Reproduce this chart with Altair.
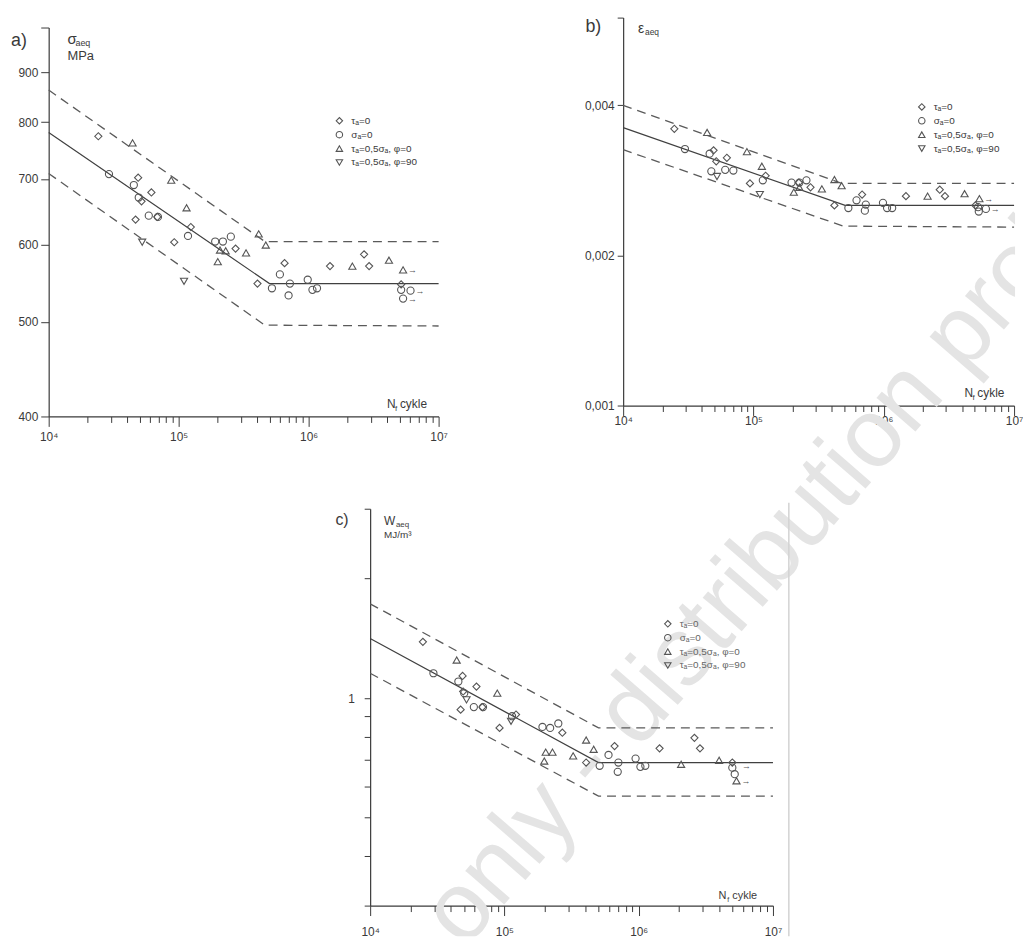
import altair as alt
import pandas as pd

FONT = "Liberation Sans, Arial, DejaVu Sans, sans-serif"
INK = "#3a3a3a"
MARK = "#555555"

SERIES = ["τₐ=0", "σₐ=0", "τₐ=0,5σₐ, φ=0", "τₐ=0,5σₐ, φ=90"]
SHAPES = ["diamond", "circle", "triangle-up", "triangle-down"]

X_TICKS = [m * 10 ** e for e in (4, 5, 6) for m in range(1, 10)] + [1e7]
X_LABEL_EXPR = ("datum.value == 10000 ? '10⁴' : datum.value == 100000 ? '10⁵' : "
                "datum.value == 1000000 ? '10⁶' : datum.value == 10000000 ? '10⁷' : ''")
X_MAJOR_TEST = ("datum.value == 10000 || datum.value == 100000 || "
                "datum.value == 1000000 || datum.value == 10000000")

# ---------------- panel a : sigma_aeq [MPa] ----------------
a_dia_N = [2.41e4, 4.88e4, 5.18e4, 6.17e4, 4.66e4, 6.85e4, 9.25e4, 1.24e5, 2.74e5, 6.53e5, 1.46e6, 2.67e6, 2.92e6, 4.04e5, 5.15e6]
a_dia_V = [774, 702, 664, 678, 636, 640, 603, 625, 594, 574, 570, 586, 570, 547, 546]
a_cir_N = [2.91e4, 4.52e4, 4.93e4, 5.89e4, 6.93e4, 1.18e5, 1.91e5, 2.19e5, 2.52e5, 5.22e5, 6.01e5, 7.01e5, 7.18e5, 9.84e5, 1.07e6, 1.16e6, 5.15e6, 5.33e6, 6.08e6]
a_cir_V = [708, 690, 670, 642, 640, 612, 604, 604, 611, 541, 559, 532, 547, 552, 539, 541, 539, 528, 538]
a_tup_N = [4.42e4, 8.77e4, 1.15e5, 2.00e5, 2.08e5, 2.30e5, 3.30e5, 4.13e5, 4.68e5, 2.17e6, 4.15e6, 5.33e6]
a_tup_V = [762, 698, 654, 576, 592, 591, 588, 615, 599, 570, 578, 565]
a_tdn_N = [5.24e4, 1.10e5]
a_tdn_V = [603, 550]
a_fit_N = [1e4, 5.0e5, 1e7]
a_fit_V = [781, 547, 547]
a_up_N = [1e4, 4.6e5, 1e7]
a_up_V = [863, 604, 604]
a_lo_N = [1e4, 4.6e5, 1e7]
a_lo_V = [709, 496, 495]
a_run_N = [5.33e6, 6.08e6, 5.33e6]
a_run_V = [565, 538, 528]
a_y_ticks = [400, 500, 600, 700, 800, 900, 1000]

# ---------------- panel b : epsilon_aeq ----------------
b_dia_N = [2.47e4, 4.94e4, 5.18e4, 6.25e4, 9.40e4, 1.24e5, 2.23e5, 2.74e5, 4.18e5, 6.82e5, 1.48e6, 2.69e6, 2.95e6, 5.05e6]
b_dia_V = [0.00359, 0.00325, 0.00309, 0.00314, 0.00279, 0.00289, 0.00280, 0.00274, 0.00252, 0.00265, 0.00263, 0.00271, 0.00263, 0.00252]
b_cir_N = [2.98e4, 4.61e4, 4.75e4, 6.07e4, 7.01e4, 1.18e5, 1.96e5, 2.25e5, 2.55e5, 5.35e5, 6.18e5, 7.16e5, 7.28e5, 9.86e5, 1.06e6, 1.16e6, 5.30e6, 5.36e6, 6.08e6]
b_cir_V = [0.00327, 0.00320, 0.00295, 0.00297, 0.00296, 0.00283, 0.00280, 0.00280, 0.00283, 0.00249, 0.00258, 0.00246, 0.00253, 0.00255, 0.00249, 0.00249, 0.00250, 0.00245, 0.00248]
b_tup_N = [4.41e4, 8.91e4, 1.16e5, 2.04e5, 2.25e5, 3.35e5, 4.18e5, 4.75e5, 2.17e6, 4.17e6, 5.42e6]
b_tup_V = [0.00353, 0.00323, 0.00302, 0.00268, 0.00274, 0.00272, 0.00284, 0.00276, 0.00263, 0.00266, 0.00260]
b_tdn_N = [5.25e4, 1.12e5]
b_tdn_V = [0.00288, 0.00265]
b_fit_N = [1e4, 5.05e5, 1e7]
b_fit_V = [0.00361, 0.00252, 0.00252]
b_up_N = [1e4, 4.75e5, 1e7]
b_up_V = [0.00400, 0.00279, 0.00279]
b_lo_N = [1e4, 4.9e5, 1e7]
b_lo_V = [0.00326, 0.00229, 0.00228]
b_run_N = [5.42e6, 6.08e6]
b_run_V = [0.00260, 0.00248]
b_y_ticks = [0.001, 0.002, 0.004, 0.006]

# ---------------- panel c : W_aeq [MJ/m3] ----------------
c_dia_N = [2.47e4, 4.88e4, 4.93e4, 6.19e4, 4.72e4, 6.85e4, 9.20e4, 1.22e5, 2.70e5, 6.61e5, 1.43e6, 2.60e6, 2.86e6, 4.06e5, 4.98e6]
c_dia_V = [1.386, 1.137, 1.039, 1.069, 0.935, 0.949, 0.841, 0.909, 0.818, 0.757, 0.747, 0.794, 0.747, 0.688, 0.688]
c_cir_N = [2.96e4, 4.54e4, 5.02e4, 5.92e4, 6.93e4, 1.14e5, 1.92e5, 2.19e5, 2.52e5, 5.12e5, 5.96e5, 6.98e5, 7.06e5, 9.48e5, 1.03e6, 1.12e6, 5.19e6, 4.98e6]
c_cir_V = [1.155, 1.101, 1.029, 0.949, 0.949, 0.900, 0.846, 0.841, 0.863, 0.675, 0.719, 0.652, 0.688, 0.704, 0.671, 0.675, 0.643, 0.668]
c_tup_N = [4.41e4, 8.85e4, 1.98e5, 2.03e5, 2.28e5, 3.25e5, 4.06e5, 4.62e5, 2.07e6, 3.97e6, 5.35e6]
c_tup_V = [1.247, 1.029, 0.694, 0.731, 0.731, 0.715, 0.784, 0.743, 0.681, 0.697, 0.619]
c_tdn_N = [5.22e4, 1.12e5]
c_tdn_V = [0.990, 0.874]
c_fit_N = [1e4, 5.02e5, 1e7]
c_fit_V = [1.413, 0.688, 0.688]
c_up_N = [1e4, 5.02e5, 1e7]
c_up_V = [1.728, 0.841, 0.841]
c_lo_N = [1e4, 5.02e5, 1e7]
c_lo_V = [1.155, 0.566, 0.566]
c_run_N = [5.4e6, 5.35e6]
c_run_V = [0.675, 0.619]
c_y_ticks = [0.3, 0.4, 0.5, 0.6, 0.7, 0.8, 0.9, 1, 2, 3]

WATERMARK = "only - distribution prohibited"


def pts_df(groups):
    rows = []
    for s, (ns, vs) in zip(SERIES, groups):
        for n, v in zip(ns, vs):
            rows.append({"N": n, "V": v, "series": s})
    return pd.DataFrame(rows)


def lines_df(fit, up, lo):
    rows = []
    for name, (ns, vs) in (("fit", fit), ("upper", up), ("lower", lo)):
        for n, v in zip(ns, vs):
            rows.append({"N": n, "V": v, "band": name})
    return pd.DataFrame(rows)


ONE = pd.DataFrame({"k": [0]})


def txt(x, y, s, size, color=INK, **kw):
    return alt.Chart(ONE).mark_text(text=s, align="left", baseline="alphabetic",
                                    fontSize=size, font=FONT, color=color, **kw).encode(
        x=alt.value(x), y=alt.value(y))


def panel(points, lines, runs, xr, yr, ydom, yticks, ylab_expr, xoff, yoff,
          xlabpad, ylabpad, ytick, ylabsize, leg_xy, leg_color, texts):
    xs = alt.Scale(type="log", domain=[1e4, 1e7], range=xr, nice=False)
    ys = alt.Scale(type="log", domain=ydom, range=yr, nice=False)
    xax = alt.Axis(orient="bottom", offset=xoff, values=X_TICKS, labelExpr=X_LABEL_EXPR,
                   title=None,
                   tickSize={"condition": {"test": X_MAJOR_TEST, "value": 10}, "value": 6},
                   labelPadding=xlabpad, labelFontSize=12,
                   labelFont=FONT, labelColor=INK, domainColor=INK, tickColor=INK,
                   grid=False, labelOverlap=False, labelFlush=False, domainWidth=1.2)
    yax = alt.Axis(orient="left", offset=yoff, values=yticks, labelExpr=ylab_expr,
                   title=None, tickSize=ytick, labelPadding=ylabpad, labelFontSize=ylabsize,
                   labelFont=FONT, labelColor=INK, domainColor=INK, tickColor=INK,
                   grid=False, labelOverlap=False, labelFlush=False, domainWidth=1.2)
    x = alt.X("N:Q", scale=xs, axis=xax)
    y = alt.Y("V:Q", scale=ys, axis=yax)
    fit = alt.Chart(lines[lines.band == "fit"]).mark_line(color="#404040", strokeWidth=1.2).encode(x=x, y=y)
    band = alt.Chart(lines[lines.band != "fit"]).mark_line(
        color="#5a5a5a", strokeWidth=1.3, strokeDash=[9, 6]).encode(x=x, y=y, detail="band:N")
    pts = alt.Chart(points).mark_point(filled=False, size=52, color=MARK, strokeWidth=1.1, opacity=1).encode(
        x=x, y=y,
        shape=alt.Shape("series:N", scale=alt.Scale(domain=SERIES, range=SHAPES),
                        legend=alt.Legend(orient="none", legendX=leg_xy[0], legendY=leg_xy[1],
                                          title=None, labelFontSize=10, labelFont=FONT,
                                          labelColor=leg_color, symbolSize=42,
                                          symbolStrokeWidth=1.1, symbolStrokeColor=MARK,
                                          symbolFillColor="transparent", padding=0,
                                          rowPadding=2, labelOffset=7)))
    arr = alt.Chart(runs).mark_text(text="→", align="left", dx=5, fontSize=9, color=MARK).encode(x=x, y=y)
    return alt.layer(fit, band, pts, arr, *texts)


pa = panel(
    pts_df([(a_dia_N, a_dia_V), (a_cir_N, a_cir_V), (a_tup_N, a_tup_V), (a_tdn_N, a_tdn_V)]),
    lines_df((a_fit_N, a_fit_V), (a_up_N, a_up_V), (a_lo_N, a_lo_V)),
    pd.DataFrame({"N": a_run_N, "V": a_run_V}),
    [41, 434], [405, 13], [400, 1000], a_y_ticks,
    "datum.value >= 1000 ? '' : format(datum.value, 'd')",
    -524, -41, 5, 3, 8, 12, (329, 102), INK,
    [txt(3, 32, "a)", 18), txt(60, 30, "σ", 15), txt(68, 32, "aeq", 9),
     txt(60, 46, "MPa", 13), txt(382, 396, "N", 12), txt(390, 399, "f", 8),
     txt(395, 396, "cykle", 12)])

pb = panel(
    pts_df([(b_dia_N, b_dia_V), (b_cir_N, b_cir_V), (b_tup_N, b_tup_V), (b_tdn_N, b_tdn_V)]),
    lines_df((b_fit_N, b_fit_V), (b_up_N, b_up_V), (b_lo_N, b_lo_V)),
    pd.DataFrame({"N": b_run_N, "V": b_run_V}),
    [620, 1014], [394, 3], [0.001, 0.006], b_y_ticks,
    "datum.value > 0.005 ? '' : replace(format(datum.value, '.3f'), '.', ',')",
    -535, -620, 0, 3, 6, 12, (916, 88), INK,
    [txt(582, 18, "b)", 18), txt(635, 19, "ε", 14), txt(642, 21, "aeq", 8.5),
     txt(964, 385, "N", 12), txt(972, 388, "f", 8), txt(977, 385, "cykle", 12)])

pc = panel(
    pts_df([(c_dia_N, c_dia_V), (c_cir_N, c_cir_V), (c_tup_N, c_tup_V), (c_tdn_N, c_tdn_V)]),
    lines_df((c_fit_N, c_fit_V), (c_up_N, c_up_V), (c_lo_N, c_lo_V)),
    pd.DataFrame({"N": c_run_N, "V": c_run_V}),
    [365, 771], [898, 498], [0.3, 3], c_y_ticks,
    "datum.value == 1 ? '1' : ''",
    -31, -365, 11, 10, 6, 12, (660, 609), "#666666",
    [txt(330, 514, "c)", 16), txt(379, 514, "W", 12), txt(391, 516, "aeq", 8),
     txt(379, 527, "MJ/m³", 10), txt(716, 891, "N", 11), txt(725, 894, "f", 7),
     txt(730, 891, "cykle", 11)])

watermark = alt.Chart(ONE).mark_text(
    text=WATERMARK, align="left", baseline="middle", angle=311, fontSize=98,
    font=FONT, color="#e4e4e4", clip=True).encode(x=alt.value(438), y=alt.value(924))

edge = alt.Chart(ONE).mark_rule(color="#d2d2d2", strokeWidth=1.5).encode(
    x=alt.value(787), y=alt.value(492), y2=alt.value(929))

chart = (
    alt.layer(watermark, edge, pa, pb, pc)
    .resolve_scale(x="independent", y="independent", shape="independent")
    .properties(width=1015, height=929, padding=0)
    .configure_view(stroke=None)
)

chart.save("out.html", embed_options={"renderer": "svg", "actions": False})
